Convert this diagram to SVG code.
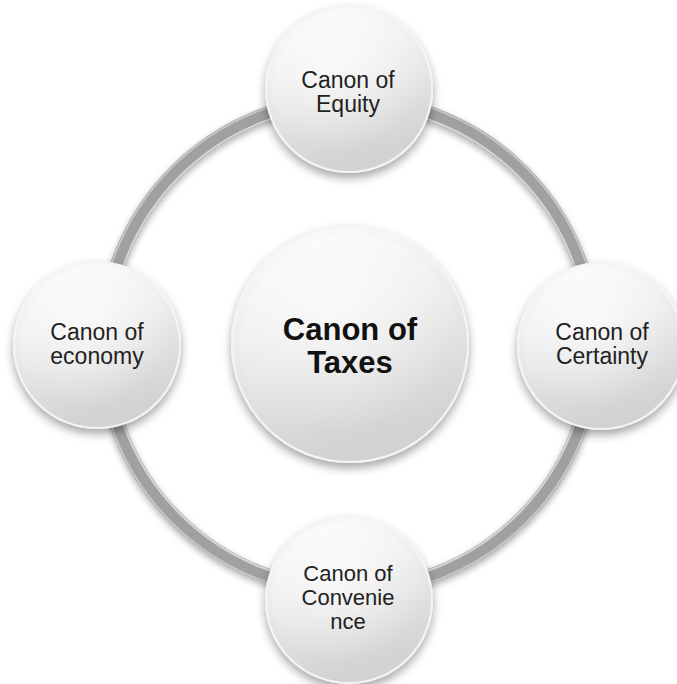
<svg xmlns="http://www.w3.org/2000/svg" width="677" height="684" viewBox="0 0 677 684">
<defs>
<linearGradient id="ballFill" x1="0" y1="0" x2="0.3" y2="1">
<stop offset="0" stop-color="#fdfdfd"/>
<stop offset="0.45" stop-color="#eeeeee"/>
<stop offset="1" stop-color="#d2d2d2"/>
</linearGradient>
<radialGradient id="ballShine" cx="0.42" cy="0.3" r="0.6">
<stop offset="0" stop-color="#ffffff" stop-opacity="0.7"/>
<stop offset="1" stop-color="#ffffff" stop-opacity="0"/>
</radialGradient>
<filter id="shadow" x="-30%" y="-30%" width="160%" height="170%">
<feDropShadow dx="0" dy="5" stdDeviation="5" flood-color="#000" flood-opacity="0.35"/>
</filter>
<filter id="ringShadow" x="-10%" y="-10%" width="120%" height="125%">
<feDropShadow dx="0" dy="3" stdDeviation="3" flood-color="#000" flood-opacity="0.3"/>
</filter>
</defs>
<style>
.ball{fill:url(#ballFill);stroke:#f4f4f4;stroke-width:2;filter:url(#shadow)}
.shine{fill:url(#ballShine)}
.lbl{font-family:"Liberation Sans",Arial,sans-serif;font-size:23px;fill:#222;text-anchor:middle}
.lbl3{font-family:"Liberation Sans",Arial,sans-serif;font-size:22px;fill:#222;text-anchor:middle}
.big{font-family:"Liberation Sans",Arial,sans-serif;font-size:31px;font-weight:bold;fill:#111;text-anchor:middle}
</style>
<rect width="677" height="684" fill="#ffffff"/>
<g id="connectors">
<circle cx="349" cy="345" r="245" fill="none" stroke="#a0a0a0" stroke-width="15" filter="url(#ringShadow)"/>
<circle cx="349" cy="345" r="251" fill="none" stroke="#c6c6c6" stroke-width="2"/>
<circle cx="349" cy="345" r="239" fill="none" stroke="#d0d6da" stroke-width="2"/>
</g>
<g id="center">
<circle class="ball" cx="350" cy="344" r="118"/>
<circle class="shine" cx="350" cy="344" r="110"/>
<text class="big" x="350" y="340">Canon of</text>
<text class="big" x="350" y="373">Taxes</text>
</g>
<g id="equity">
<circle class="ball" cx="349" cy="89" r="83"/>
<circle class="shine" cx="349" cy="89" r="77"/>
<text class="lbl" x="348" y="88">Canon of</text>
<text class="lbl" x="348" y="112">Equity</text>
</g>
<g id="certainty">
<circle class="ball" cx="601" cy="346" r="83"/>
<circle class="shine" cx="601" cy="346" r="77"/>
<text class="lbl" x="602" y="340">Canon of</text>
<text class="lbl" x="602" y="364">Certainty</text>
</g>
<g id="convenience">
<circle class="ball" cx="349" cy="600" r="83"/>
<circle class="shine" cx="349" cy="600" r="77"/>
<text class="lbl3" x="348" y="581">Canon of</text>
<text class="lbl3" x="348" y="605">Convenie</text>
<text class="lbl3" x="348" y="629">nce</text>
</g>
<g id="economy">
<circle class="ball" cx="97" cy="345" r="83"/>
<circle class="shine" cx="97" cy="345" r="77"/>
<text class="lbl" x="97" y="340">Canon of</text>
<text class="lbl" x="97" y="364">economy</text>
</g>
</svg>
